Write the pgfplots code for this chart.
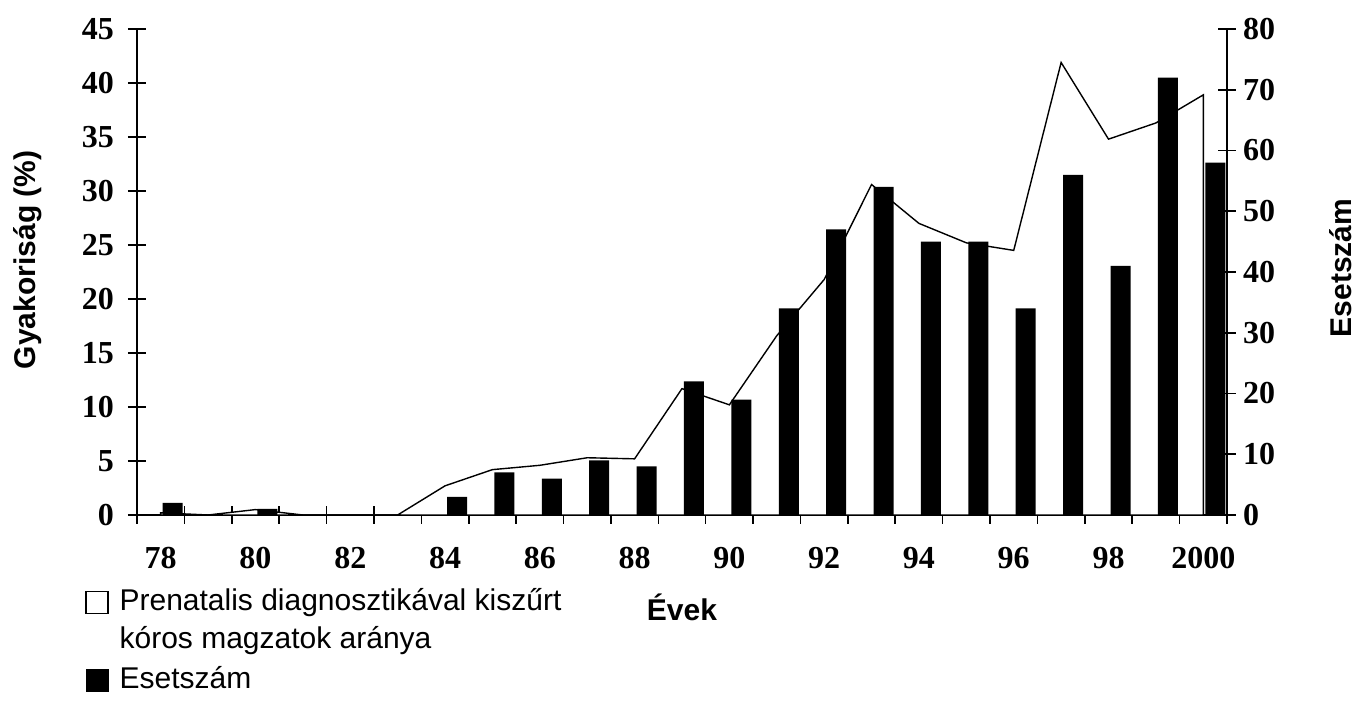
\documentclass[border=0pt]{standalone}
\usepackage{pgfplots}
\pgfplotsset{compat=1.18}
\usepackage{fontspec}
\setmainfont{Liberation Serif}
\setsansfont{Liberation Sans}
\begin{document}
\begin{tikzpicture}
\pgfplotsset{
  base/.style={
    width=545pt, height=243pt, scale only axis,
    xmin=77.5, xmax=100.5,
    axis line style={line width=0.8pt},
    tick align=center,
    major tick length=9pt,
    minor tick length=10pt,
    every tick/.style={black, line width=0.8pt},
    /pgf/number format/assume math mode=true,
    tick label style={font=\fontsize{16}{18}\selectfont\bfseries},
    label style={font=\sffamily\bfseries\fontsize{15}{18}\selectfont},
  }
}
\begin{axis}[base,
  axis x line*=bottom, axis y line*=left,
  ymin=0, ymax=45, ytick={0,5,...,45},
  yticklabel style={xshift=-3.5pt},
  xtick={77.5,78.5,...,100.5}, xticklabels={},
  major tick length=9pt,
  extra x ticks={78,80,...,100},
  extra x tick labels={78,80,82,84,86,88,90,92,94,96,98,2000},
  extra x tick style={major tick length=0pt, xticklabel style={anchor=base, yshift=-27pt}},
  ylabel={Gyakoriság (\%)},
  ylabel style={at={(axis description cs:-0.1,0.525)}, anchor=center},
  xlabel={Évek},
  xlabel style={at={(axis description cs:0.5,-0.218)}, anchor=base},
]
\coordinate (O) at (rel axis cs:0,0);
\addplot[draw=black, fill=white, line width=0.7pt] coordinates {
(78,0.2) (79,0) (80,0.5) (81,0) (82,0) (83,0) (84,2.7) (85,4.2) (86,4.6)
(87,5.3) (88,5.2) (89,11.7) (90,10.2) (91,16.6) (92,21.8) (93,30.6)
(94,27.0) (95,25.2) (96,24.5) (97,41.9) (98,34.8) (99,36.3) (100,38.9)
} \closedcycle;
\end{axis}
\begin{axis}[base,
  axis y line*=right, axis x line=none,
  ymin=0, ymax=80, ytick={0,10,...,80},
  ylabel={Esetszám},
  ylabel style={at={(axis description cs:1.1046,0.508)}, anchor=center},
  ybar, bar width=10pt,
  legend style={at={(axis description cs:-0.0477,-0.1407)}, anchor=north west,
    draw=none, fill=none, inner sep=0pt, row sep=24pt, column sep=5.5pt,
    font=\sffamily\fontsize{15}{19}\selectfont,
    cells={anchor=base west}, nodes={inner sep=0pt}},
]
\addplot[fill=black, draw=none, forget plot] coordinates {
(78,2) (80,1) (84,3) (85,7) (86,6) (87,9) (88,8) (89,22) (90,19) (91,34)
(92,47) (93,54) (94,45) (95,45) (96,34) (97,56) (98,41) (99,72) (100,58)
};
\addlegendimage{legend image code/.code={\draw[draw=black,fill=white,line width=0.6pt] (0pt,-1.5pt) rectangle (11pt,9.5pt);}}
\addlegendentry{\begin{tabular}[t]{@{}l@{}}Prenatalis diagnosztikával kiszűrt\\kóros magzatok aránya\end{tabular}}
\addlegendimage{legend image code/.code={\fill[black] (0pt,-1.5pt) rectangle (11pt,9.5pt);}}
\addlegendentry{\begin{tabular}[t]{@{}l@{}}Esetszám\end{tabular}}
\end{axis}
\pgfresetboundingbox
\path[use as bounding box] ([shift={(-68.5pt,-94.5pt)}]O) rectangle ([shift={(610pt,257.5pt)}]O);
\end{tikzpicture}
\end{document}
